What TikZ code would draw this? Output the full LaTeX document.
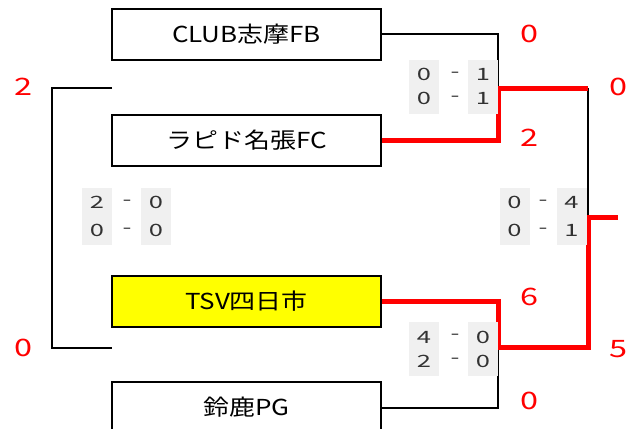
\documentclass[tikz,border=0pt]{standalone}
\usepackage{fontspec}
\newfontfamily\teamfont[FakeStretch=1.18]{Noto Sans CJK JP}
\newfontfamily\scorefont[FakeStretch=1.5]{Noto Sans CJK JP}
\newfontfamily\goalfont[FakeStretch=1.35]{Noto Sans CJK JP}
\usetikzlibrary{positioning, calc}
\definecolor{cellgray}{RGB}{240,240,240}
\definecolor{scoretext}{RGB}{50,50,50}
\definecolor{winred}{RGB}{255,0,0}
\definecolor{hiyellow}{RGB}{255,255,0}

\begin{document}
\begin{tikzpicture}[
    x=1pt, y=-1pt,
    team/.style={rectangle, draw, line width=2pt, fill=white, minimum width=269pt, minimum height=51pt, inner sep=0pt, font=\teamfont\fontsize{22}{24}\selectfont},
    cell/.style={rectangle, fill=cellgray, minimum width=30pt, minimum height=54pt, inner sep=0pt, align=center, text=scoretext, font=\scorefont\fontsize{17}{24}\selectfont},
    sep/.style={rectangle, inner sep=0pt, align=center, text=scoretext, font=\scorefont\fontsize{17}{24}\selectfont},
    goal/.style={text=winred, inner sep=0pt, font=\goalfont\fontsize{24}{28}\selectfont},
    line/.style={line width=2pt},
    win/.style={winred, line width=5pt}
]
\useasboundingbox (0,0) rectangle (644,428);

% Teams
\node[team] (club) at (246.5,34.5) {CLUB志摩FB};
\node[team] (rapid) [below=53pt of club] {ラピド名張FC};
\node[team, fill=hiyellow] (tsv) [below=108pt of rapid] {TSV四日市};
\node[team] (suzuka) [below=53pt of tsv] {鈴鹿PG};

% Junctions
\coordinate (s1) at (498,88);
\coordinate (s2) at (498,347);
\coordinate (f1) at (588,88);
\coordinate (f2) at (588,217);
\coordinate (champ) at (618,217);
\coordinate (l1) at (112,88);
\coordinate (l2) at (112,348);

% Bracket lines
\draw[line] (club.east) -| (s1);
\draw[line] (suzuka.east) -| (s2);
\draw[line] (f1) -- (f2);
\draw[line] (l1) -- ++(-60,0) |- (l2);

% Winning path
\draw[win] (rapid.east) -| (s1) -- (f1);
\draw[win] (tsv.east) -| (s2) -| (f2) -- (champ);

% Scores
\node[cell] (sc1a) at (424,86.5) {0\\0};
\node[sep] (sc1d) at (455,86.5) {-\\-};
\node[cell] (sc1b) at (483,86.5) {1\\1};

\node[cell, minimum height=57pt, font=\scorefont\fontsize{17}{28}\selectfont] (sc2a) at (97,216.5) {2\\0};
\node[sep, font=\scorefont\fontsize{17}{28}\selectfont] (sc2d) at (127,216.5) {-\\-};
\node[cell, minimum height=57pt, font=\scorefont\fontsize{17}{28}\selectfont] (sc2b) at (156,216.5) {0\\0};

\node[cell, minimum height=57pt, font=\scorefont\fontsize{17}{28}\selectfont] (sc3a) at (514.5,216.5) {0\\0};
\node[sep, font=\scorefont\fontsize{17}{28}\selectfont] (sc3d) at (543,216.5) {-\\-};
\node[cell, minimum height=57pt, font=\scorefont\fontsize{17}{28}\selectfont] (sc3b) at (571.5,216.5) {4\\1};

\node[cell] (sc4a) at (424,349) {4\\2};
\node[sep] (sc4d) at (455,349) {-\\-};
\node[cell] (sc4b) at (483,349) {0\\0};

% Goals
\node[goal] (g1) at (529,34) {0};
\node[goal] (g2) at (529,138) {2};
\node[goal] (g3) at (529,297) {6};
\node[goal] (g4) at (529,401) {0};
\node[goal] (g5) at (618,87) {0};
\node[goal] (g6) at (618,349) {5};
\node[goal] (g7) at (23,87) {2};
\node[goal] (g8) at (23,348) {0};

\end{tikzpicture}
\end{document}
